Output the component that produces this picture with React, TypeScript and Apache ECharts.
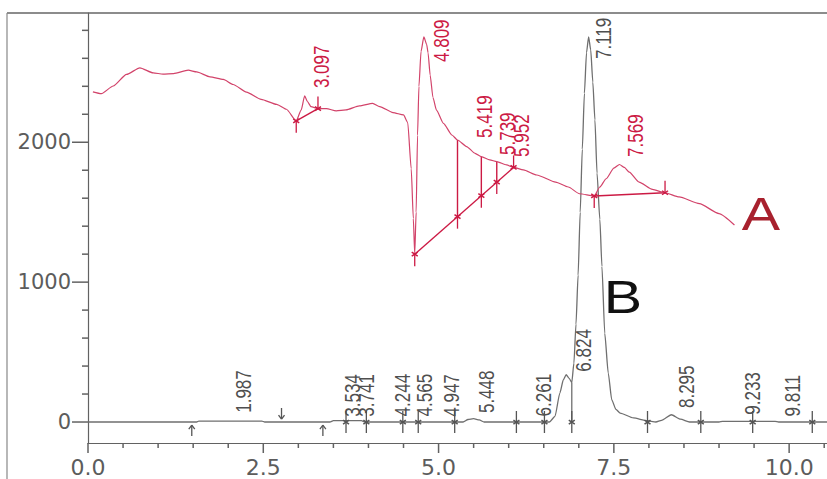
import React, { useEffect, useRef } from "react";
import * as echarts from "echarts";

// ---- axis ticks ----
const xMajorTicks = [0, 2.5, 5, 7.5, 10];
const xMinorTicks = [0.5, 1, 1.5, 2, 3, 3.5, 4, 4.5, 5.5, 6, 6.5, 7, 8, 8.5, 9, 9.5, 10.5];
const yMajorTicks = [0, 1000, 2000];
const yMinorTicks = [200, 400, 600, 800, 1200, 1400, 1600, 1800, 2200, 2400, 2600, 2800];

// ---- trace A (red) : [time, signal] ----
const traceA: [number, number][] = [
  [0.07, 2360], [0.19, 2347], [0.36, 2402], [0.55, 2485], [0.74, 2532], [0.93, 2496], [1.07, 2487],
  [1.22, 2491], [1.43, 2515], [1.55, 2503], [1.74, 2468], [1.93, 2449], [2.07, 2413], [2.26, 2359],
  [2.47, 2307], [2.69, 2271], [2.83, 2236], [2.97, 2153], [3.04, 2230], [3.09, 2331], [3.13, 2290],
  [3.18, 2255], [3.28, 2241], [3.4, 2241], [3.54, 2224], [3.68, 2231], [3.87, 2260], [4.06, 2278],
  [4.16, 2255], [4.35, 2212], [4.5, 2195], [4.56, 2141], [4.61, 1810], [4.64, 1455], [4.66, 1200],
  [4.68, 1500], [4.7, 2050], [4.72, 2400], [4.75, 2650], [4.79, 2754], [4.83, 2700], [4.85, 2640],
  [4.88, 2480], [4.92, 2320], [4.97, 2230], [5.07, 2135], [5.19, 2052], [5.27, 2016], [5.4, 1969],
  [5.52, 1921], [5.61, 1897], [5.73, 1874], [5.83, 1862], [5.97, 1838], [6.07, 1820], [6.21, 1802],
  [6.4, 1766], [6.67, 1715], [6.85, 1680], [7.01, 1632], [7.22, 1616], [7.3, 1680], [7.39, 1739],
  [7.5, 1815], [7.58, 1841], [7.65, 1820], [7.72, 1786], [7.86, 1715], [8.05, 1663], [8.23, 1639],
  [8.43, 1609], [8.72, 1561], [9.0, 1490], [9.22, 1408],
];

// ---- trace B (grey) ----
const traceB: [number, number][] = [
  [0, 0], [1.55, 0], [1.58, 7], [2.48, 7], [2.52, 0], [3.45, 0], [3.5, 10], [3.9, 10], [3.95, 0],
  [5.35, 0], [5.42, 18], [5.5, 24], [5.58, 15], [5.65, 0], [6.58, 0], [6.66, 40], [6.73, 207],
  [6.78, 302], [6.82, 338], [6.86, 314], [6.9, 282], [6.93, 420], [6.96, 700], [6.99, 1050],
  [7.02, 1500], [7.05, 1950], [7.08, 2350], [7.11, 2640], [7.14, 2754], [7.17, 2660], [7.2, 2430],
  [7.23, 2160], [7.26, 1780], [7.3, 1450], [7.33, 1112], [7.37, 635], [7.42, 350], [7.47, 159],
  [7.53, 90], [7.59, 64], [7.78, 29], [7.97, 10], [8.1, 0], [8.18, 12], [8.32, 52], [8.45, 20],
  [8.58, 0], [9.0, 0], [9.05, 5], [9.8, 5], [9.85, 0], [10.54, 0],
];

// ---- integration baselines / drop lines : [t1, v1, t2, v2] ----
const aSegments: [number, number, number, number][] = [
  [2.97, 2153, 3.28, 2241],
  [4.66, 1200, 6.07, 1820],
  [7.22, 1616, 8.23, 1639],
  [5.27, 2016, 5.27, 1468],
  [5.61, 1897, 5.61, 1618],
  [5.83, 1862, 5.83, 1715],
];
const bSegments: [number, number, number, number][] = [[6.9, 282, 6.9, 0]];

// markers: [time, signal, kind]  kind 0 cross, 1 arrow up, 2 arrow down, 3 start tick, 4 end tick
const aMarks: [number, number, number][] = [
  [2.97, 2153, 3], [3.28, 2241, 4], [4.66, 1200, 3], [5.27, 1468, 3], [5.61, 1618, 3],
  [5.83, 1715, 3], [6.07, 1820, 4], [7.22, 1616, 3], [8.23, 1639, 4],
];
const bMarks: [number, number, number][] = [
  [1.48, 0, 1], [2.76, 0, 2], [3.35, 0, 1], [3.68, 0, 0], [3.97, 0, 0], [4.49, 0, 0], [4.71, 0, 0],
  [5.23, 0, 0], [6.11, 0, 0], [6.51, 0, 0], [6.9, 0, 0], [7.98, 0, 0], [8.74, 0, 0], [9.48, 0, 0],
  [10.33, 0, 0],
];

// peak labels (retention time) and the signal level where each label starts
const aLabels = ["3.097", "4.809", "5.419", "5.739", "5.952", "7.569"];
const aLabelLevels = [2387, 2574, 2031, 1909, 1895, 1895];
const bLabels = ["1.987", "3.534", "3.741", "4.244", "4.565", "4.947", "5.448", "6.261", "6.824", "7.119", "8.295", "9.233", "9.811"];
const bLabelLevels = [66, 38, 38, 40, 40, 38, 64, 40, 360, 2595, 100, 52, 40];

const RED = "#d2436a";
const RED_DARK = "#cc1a44";
const GREY = "#6f6f6f";
const AXIS = "#626262";
const LABEL = "#5c5c5c";

const X_MIN = 0;
const X_MAX = 10.54;
const Y_MIN = -150;
const Y_MAX = 2924;

function seg(x1: number, y1: number, x2: number, y2: number, color: string, w = 1) {
  return {
    type: "line",
    shape: { x1, y1, x2, y2 },
    style: { stroke: color, lineWidth: w },
  };
}

function markerRender(color: string) {
  return (params: any, api: any) => {
    const p = api.coord([api.value(0), api.value(1)]);
    const k = api.value(2);
    const x = p[0];
    const y = p[1];
    const L = (x1: number, y1: number, x2: number, y2: number, w = 1.3) => seg(x1, y1, x2, y2, color, w);
    const cross = [L(x - 3, y - 2, x + 3, y + 2, 1.5), L(x - 3, y + 2, x + 3, y - 2, 1.5)];
    let children: any[] = [];
    if (k === 0) children = [L(x, y - 11, x, y + 11), ...cross];
    else if (k === 1) children = [L(x, y + 3, x, y + 14), L(x - 3, y + 7, x, y + 3), L(x + 3, y + 7, x, y + 3)];
    else if (k === 2) children = [L(x, y - 14, x, y - 3), L(x - 3, y - 7, x, y - 3), L(x + 3, y - 7, x, y - 3)];
    else if (k === 3) children = [L(x, y, x, y + 12), ...cross];
    else children = [L(x, y - 12, x, y), ...cross];
    return { type: "group", children };
  };
}

function segmentRender(color: string, w: number) {
  return (params: any, api: any) => {
    const a = api.coord([api.value(0), api.value(1)]);
    const b = api.coord([api.value(2), api.value(3)]);
    return seg(a[0], a[1], b[0], b[1], color, w);
  };
}

function labelRender(names: string[], color: string) {
  return (params: any, api: any) => {
    const p = api.coord([api.value(0), api.value(1)]);
    return {
      type: "text",
      x: p[0] + 17,
      y: p[1],
      rotation: Math.PI / 2,
      scaleY: 1.25,
      style: {
        text: names[params.dataIndex],
        fill: color,
        fontSize: 17,
        fontFamily: "Liberation Sans",
        align: "left",
        verticalAlign: "middle",
      },
    };
  };
}

export default function App() {
  const ref = useRef<HTMLDivElement>(null);
  useEffect(() => {
    if (!ref.current) return;
    const chart = echarts.init(ref.current, null, { renderer: "svg" });
    const baseGraphics: any[] = [
      { type: "line", shape: { x1: 7, y1: 13, x2: 827, y2: 13 }, style: { stroke: "#666", lineWidth: 1.5 }, z: 100 },
      { type: "line", shape: { x1: 7, y1: 13, x2: 7, y2: 479 }, style: { stroke: "#888", lineWidth: 1.2 }, z: 100 },
      {
        type: "text",
        x: 761,
        y: 214,
        scaleX: 1.25,
        style: { text: "A", fill: "#a8212e", fontSize: 46, fontFamily: "Liberation Sans", align: "center", verticalAlign: "middle" },
        z: 100,
      },
      {
        type: "text",
        x: 623,
        y: 297,
        scaleX: 1.25,
        style: { text: "B", fill: "#111111", fontSize: 46, fontFamily: "Liberation Sans", align: "center", verticalAlign: "middle" },
        z: 100,
      },
    ];
    const option: any = {
      animation: false,
      backgroundColor: "#ffffff",
      grid: { left: 88, right: 0, top: 13, bottom: 36 },
      xAxis: {
        type: "value",
        min: X_MIN,
        max: X_MAX,
        position: "bottom",
        splitLine: { show: false },
        axisLine: { show: true, onZero: false, lineStyle: { color: AXIS, width: 1.2 } },
        axisTick: { show: false },
        axisLabel: {
          customValues: xMajorTicks,
          formatter: (v: number) => v.toFixed(1),
          fontFamily: "DejaVu Sans",
          fontSize: 22,
          color: LABEL,
          margin: 13,
        },
      },
      yAxis: {
        type: "value",
        min: Y_MIN,
        max: Y_MAX,
        position: "left",
        splitLine: { show: false },
        axisLine: { show: true, onZero: false, lineStyle: { color: AXIS, width: 1.2 } },
        axisTick: { show: false },
        axisLabel: {
          customValues: yMajorTicks,
          formatter: (v: number) => String(v),
          fontFamily: "DejaVu Sans",
          fontSize: 21,
          color: LABEL,
          margin: 17,
        },
      },
      graphic: baseGraphics,
      series: [
        {
          type: "line",
          data: traceB,
          showSymbol: false,
          smooth: 0.2,
          smoothMonotone: "x",
          lineStyle: { color: GREY, width: 1.3 },
          z: 3,
        },
        {
          type: "line",
          data: traceA,
          showSymbol: false,
          smooth: 0.2,
          smoothMonotone: "x",
          lineStyle: { color: RED, width: 1.2 },
          z: 4,
        },
        { type: "custom", data: aSegments, encode: { x: [0, 2], y: [1, 3] }, renderItem: segmentRender(RED_DARK, 1.4), clip: false, z: 4 },
        { type: "custom", data: bSegments, encode: { x: [0, 2], y: [1, 3] }, renderItem: segmentRender(GREY, 1.3), clip: false, z: 3 },
        { type: "custom", data: aMarks, encode: { x: 0, y: 1 }, renderItem: markerRender(RED_DARK), clip: false, z: 5 },
        { type: "custom", data: bMarks, encode: { x: 0, y: 1 }, renderItem: markerRender("#555555"), clip: false, z: 5 },
        {
          type: "custom",
          data: aLabels.map((n, i) => [parseFloat(n), aLabelLevels[i]]),
          encode: { x: 0, y: 1 },
          renderItem: labelRender(aLabels, RED_DARK),
          clip: false,
          z: 6,
        },
        {
          type: "custom",
          data: bLabels.map((n, i) => [parseFloat(n), bLabelLevels[i]]),
          encode: { x: 0, y: 1 },
          renderItem: labelRender(bLabels, "#4f4f4f"),
          clip: false,
          z: 6,
        },
      ],
    };
    chart.setOption(option);

    // axis ticks, positioned through the chart's own scales
    const tickGraphics: any[] = [];
    const addX = (v: number, len: number) => {
      const p = chart.convertToPixel({ gridIndex: 0 }, [v, Y_MIN]) as number[];
      tickGraphics.push({ type: "line", shape: { x1: p[0], y1: p[1], x2: p[0], y2: p[1] + len }, style: { stroke: AXIS, lineWidth: 1.5 }, z: 50 });
    };
    const addY = (v: number, len: number) => {
      const p = chart.convertToPixel({ gridIndex: 0 }, [X_MIN, v]) as number[];
      tickGraphics.push({ type: "line", shape: { x1: p[0] - len, y1: p[1], x2: p[0], y2: p[1] }, style: { stroke: AXIS, lineWidth: 1.5 }, z: 50 });
    };
    xMajorTicks.forEach((v) => addX(v, 10));
    xMinorTicks.forEach((v) => addX(v, 5));
    yMajorTicks.forEach((v) => addY(v, 16));
    yMinorTicks.forEach((v) => addY(v, 6));
    chart.setOption({ graphic: [...baseGraphics, ...tickGraphics] });

    return () => chart.dispose();
  }, []);
  return <div ref={ref} style={{ position: "absolute", left: 0, top: 0, width: 827, height: 479 }} />;
}
